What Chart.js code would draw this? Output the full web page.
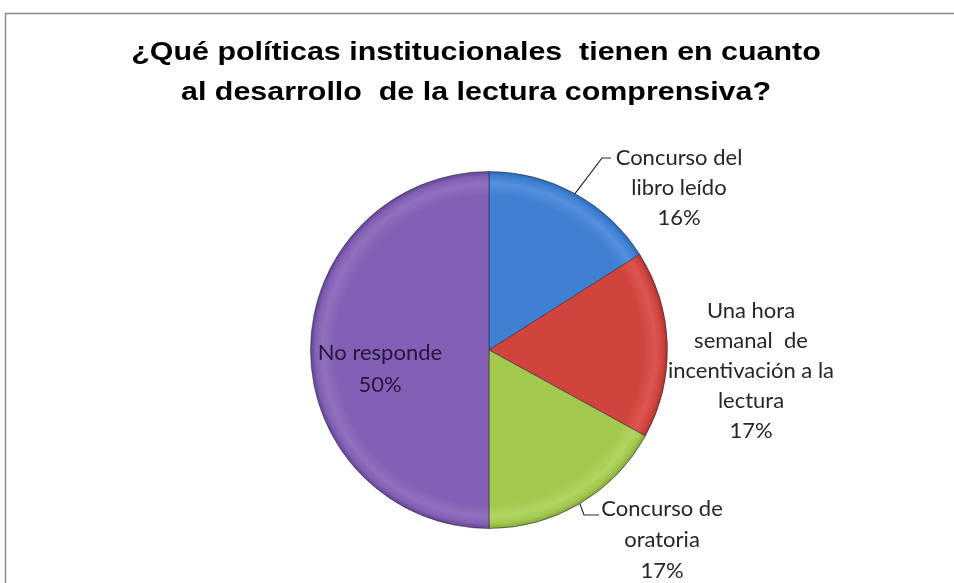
<!DOCTYPE html>
<html>
<head>
<meta charset="utf-8">
<script src="https://cdn.jsdelivr.net/npm/chart.js@4.4.0/dist/chart.umd.min.js"></script>
<style>
  html, body { margin: 0; padding: 0; background: #fff; }
  #wrap { width: 954px; height: 583px; }
</style>
</head>
<body>
<div id="wrap"><canvas id="pieChart" width="954" height="583"></canvas></div>
<script>
const TITLE_LINES = ["¿Qué políticas institucionales  tienen en cuanto", "al desarrollo  de la lectura comprensiva?"];
const categories = ["Concurso del libro leído", "Una hora semanal de incentivación a la lectura", "Concurso de oratoria", "No responde"];
const percentages = [16, 17, 17, 50];
const labelLines = [
  ["Concurso del", "libro leído"],
  ["Una hora", "semanal  de", "incentivación a la", "lectura"],
  ["Concurso de", "oratoria"],
  ["No responde"]
];

// slice colours: [rim, body, highlight]
const sliceColors = [
  ["#2d68b5", "#3f80d2", "#5490dc"],
  ["#a8302c", "#d1443d", "#db574f"],
  ["#7fa337", "#a2c84e", "#b2d462"],
  ["#5d4190", "#8360b6", "#9070bf"]
];

// label placement relative to pie centre (first line centre), line height
const labelPlacement = [
  { dx: 190, dy: -192, lh: 30, leader: [[113, -192], [122, -192]] },
  { dx: 262, dy: -39, lh: 30, leader: null },
  { dx: 173, dy: 159, lh: 31, leader: [[95, 165], [110, 165]] },
  { dx: -109, dy: 3, lh: 32, leader: null }
];

function sliceFill(ctx) {
  const i = ctx.dataIndex;
  const chart = ctx.chart;
  const area = chart.chartArea;
  if (!area || i === undefined) return sliceColors[i || 0][1];
  const cx = (area.left + area.right) / 2;
  const cy = (area.top + area.bottom) / 2;
  const r = Math.min(area.width, area.height) / 2;
  const g = chart.ctx.createRadialGradient(cx, cy, 0, cx, cy, r);
  const c = sliceColors[i];
  g.addColorStop(0, c[1]);
  g.addColorStop(0.86, c[1]);
  g.addColorStop(0.93, c[2]);
  g.addColorStop(0.97, c[1]);
  g.addColorStop(1, c[0]);
  return g;
}

const framePlugin = {
  id: "frame",
  beforeDraw(chart) {
    const ctx = chart.ctx;
    ctx.save();
    ctx.strokeStyle = "#8a8a8a";
    ctx.lineWidth = 1.5;
    ctx.beginPath();
    ctx.moveTo(5.5, chart.height);
    ctx.lineTo(5.5, 13.5);
    ctx.lineTo(chart.width, 13.5);
    ctx.stroke();

    // title, widened a little to match the original's letterforms
    ctx.fillStyle = "#000";
    ctx.font = "bold 26px 'Liberation Sans', Arial, sans-serif";
    ctx.textAlign = "center";
    ctx.textBaseline = "middle";
    ctx.translate(476, 0);
    ctx.scale(1.17, 1);
    TITLE_LINES.forEach((line, k) => ctx.fillText(line, 0, 53 + k * 40));
    ctx.restore();
  }
};

const labelPlugin = {
  id: "sliceLabels",
  afterDatasetsDraw(chart) {
    const ctx = chart.ctx;
    const meta = chart.getDatasetMeta(0);
    ctx.save();
    ctx.font = "22px Lato";
    ctx.textAlign = "center";
    ctx.textBaseline = "middle";
    meta.data.forEach((arc, i) => {
      const p = arc.getProps(["x", "y", "startAngle", "endAngle", "outerRadius"], true);
      const place = labelPlacement[i];
      const lines = labelLines[i].concat([percentages[i] + "%"]);
      ctx.fillStyle = i === 3 ? "#24183a" : "#262626";
      lines.forEach((line, k) => {
        ctx.fillText(line, p.x + place.dx, p.y + place.dy + k * place.lh);
      });
      if (place.leader) {
        const mid = (p.startAngle + p.endAngle) / 2;
        ctx.strokeStyle = "#262626";
        ctx.lineWidth = 1.2;
        ctx.beginPath();
        ctx.moveTo(p.x + Math.cos(mid) * p.outerRadius, p.y + Math.sin(mid) * p.outerRadius);
        place.leader.forEach(([lx, ly]) => ctx.lineTo(p.x + lx, p.y + ly));
        ctx.stroke();
      }
    });
    ctx.restore();
  }
};

const context = document.getElementById("pieChart").getContext("2d");
new Chart(context, {
  type: "pie",
  data: {
    labels: categories,
    datasets: [{
      data: percentages,
      backgroundColor: sliceFill,
      borderColor: "rgba(30,30,50,0.5)",
      borderWidth: 1
    }]
  },
  options: {
    responsive: false,
    animation: false,
    layout: { padding: { left: 310, right: 286, top: 171, bottom: 54 } },
    plugins: {
      legend: { display: false },
      tooltip: { enabled: false },
      title: { display: false }
    }
  },
  plugins: [framePlugin, labelPlugin]
});
</script>
</body>
</html>
